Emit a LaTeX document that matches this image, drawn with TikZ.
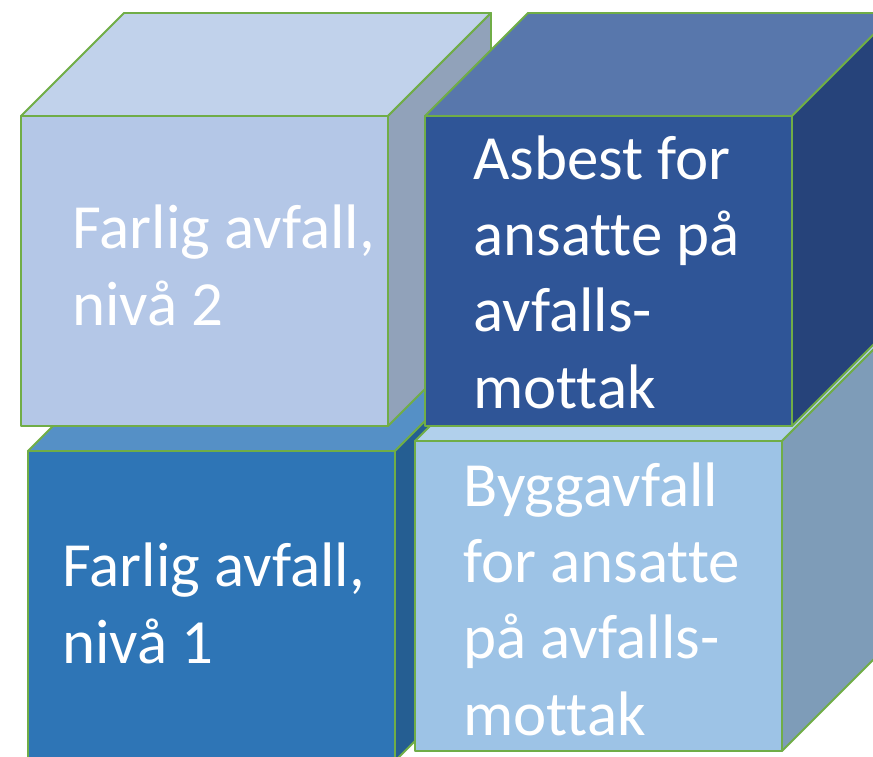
\documentclass[tikz,border=0pt]{standalone}
\usepackage{fontspec}
\setmainfont{Carlito}[Ligatures=NoCommon]
\definecolor{edgegreen}{HTML}{70AD47}
\definecolor{lightfront}{HTML}{B4C7E7}
\definecolor{lighttop}{HTML}{C1D2EB}
\definecolor{lightside}{HTML}{91A2BA}
\definecolor{navyfront}{HTML}{2F5597}
\definecolor{navytop}{HTML}{5877AC}
\definecolor{navyside}{HTML}{26437A}
\definecolor{midfront}{HTML}{2E75B6}
\definecolor{midtop}{HTML}{5590C6}
\definecolor{midside}{HTML}{255E92}
\definecolor{skyfront}{HTML}{9DC3E6}
\definecolor{skytop}{HTML}{B1D0EC}
\definecolor{skyside}{HTML}{7E9CB8}
% cube: #1,#2 = upper left corner of the front face, #3 = colour prefix
\newcommand{\drawcube}[3]{%
    \filldraw[face, fill=#3top] (#1,#2) -- ++(103,-103) -- ++(367,0) -- ++(-103,103) -- cycle;
    \filldraw[face, fill=#3side] (#1+367,#2) -- ++(103,-103) -- ++(0,310) -- ++(-103,103) -- cycle;
    \filldraw[face, fill=#3front] (#1,#2) rectangle ++(367,310);
}
\begin{document}
\begin{tikzpicture}[x=0.02cm, y=-0.02cm,
        face/.style = {draw=edgegreen, line width=1.1pt, line join=round},
        label/.style = {anchor=base west, align=left, inner sep=0pt,
            text=white, font=\fontsize{35.8}{43.4}\selectfont}]
    \useasboundingbox (0,0) rectangle (873,757);
    \clip (0,0) rectangle (873,757);
    \drawcube{28}{451}{mid}
    \drawcube{21}{116}{light}
    \drawcube{415}{441}{sky}
    \drawcube{425}{116}{navy}
    % base anchor sits on the last line
    \node[label] (niva2) at (72,325) {Farlig avfall,\\nivå 2};
    \node[label] (asbest) at (473,408) {Asbest for\\ansatte på\\avfalls-\\mottak};
    \node[label] (niva1) at (62,663) {Farlig avfall,\\nivå 1};
    \node[label] (bygg) at (463,735) {Byggavfall\\for ansatte\\på avfalls-\\mottak};
\end{tikzpicture}
\end{document}
